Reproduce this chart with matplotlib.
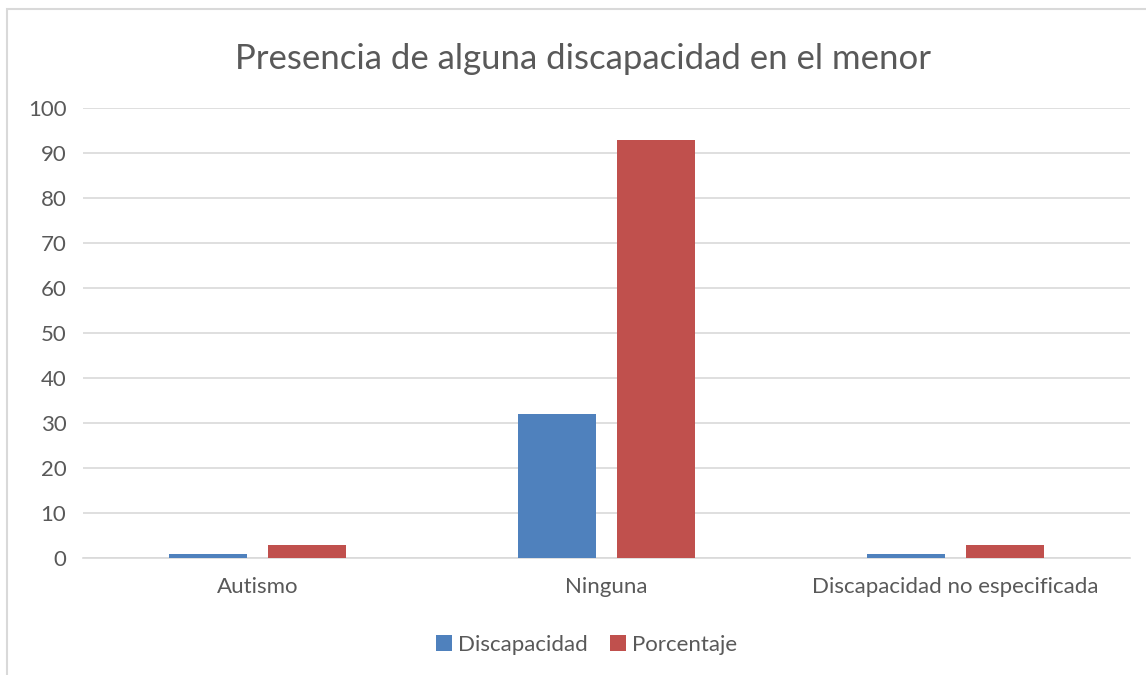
import numpy as np
import matplotlib
matplotlib.use('Agg')
from matplotlib import pyplot as plt
from matplotlib.patches import Rectangle

plt.rcParams['font.family'] = ['Lato', 'DejaVu Sans']

# datos
categorias = ['Autismo', 'Ninguna', 'Discapacidad no especificada']
discapacidad = [1, 32, 1]
porcentaje = [2.9, 92.8, 2.9]
series = ['Discapacidad', 'Porcentaje']
colores = ['#4f81bd', '#c0504d']

fig = plt.figure(figsize=(11.46, 6.75), dpi=100)
ax = fig.add_axes([83 / 1146, 0.1733, 1047 / 1146, 0.6667])

x = np.arange(len(categorias))
ancho = 0.2235
off = 0.142
ax.bar(x - off, discapacidad, ancho, color=colores[0], label=series[0], zorder=3)
ax.bar(x + off, porcentaje, ancho, color=colores[1], label=series[1], zorder=3)

ax.set_xlim(-0.5, 2.5)
ax.set_ylim(0, 100)
ax.set_yticks(range(0, 101, 10))
ax.set_xticks(x)
ax.set_xticklabels(categorias)
ax.grid(axis='y', color='#d9d9d9', linewidth=1.2, zorder=0)
for s in ['top', 'right', 'left']:
    ax.spines[s].set_visible(False)
ax.spines['bottom'].set_color('#d9d9d9')
ax.spines['bottom'].set_linewidth(1.2)
ax.tick_params(axis='both', length=0, labelsize=16, colors='#595959', pad=10)
ax.tick_params(axis='y', pad=12)
ax.tick_params(axis='x', pad=14)

fig.text(0.509, 0.913, 'Presencia de alguna discapacidad en el menor',
         ha='center', va='center', fontsize=25, color='#595959')

leg = fig.legend(loc='center', bbox_to_anchor=(0.512, 0.045), ncol=2, frameon=False,
                 fontsize=16, handlelength=0.7, handleheight=0.7, handletextpad=0.3,
                 columnspacing=1.0)
for t in leg.get_texts():
    t.set_color('#595959')

# borde del grafico
fig.patches.append(Rectangle((7 / 1146, -0.01), 1.02, 1 - 9 / 675 + 0.01,
                             transform=fig.transFigure, fill=False,
                             edgecolor='#d9d9d9', linewidth=1.5))

fig.savefig('out.png', dpi=100)
